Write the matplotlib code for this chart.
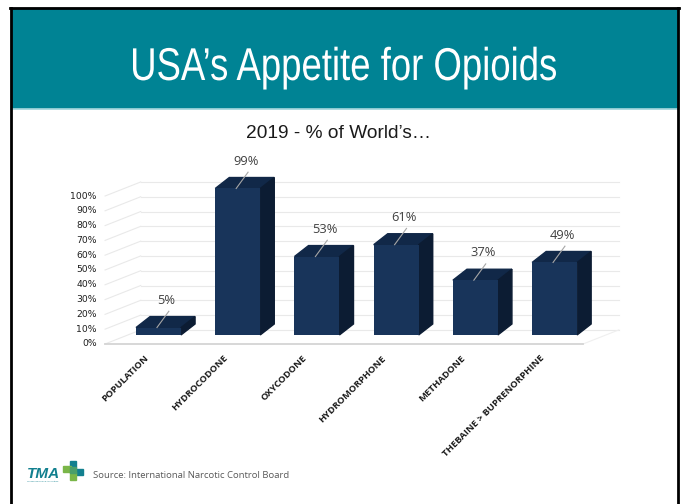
import matplotlib
matplotlib.use("Agg")
import matplotlib.pyplot as plt
from matplotlib.patches import Polygon, Rectangle, PathPatch
from matplotlib.lines import Line2D
from matplotlib.textpath import TextPath
from matplotlib.font_manager import FontProperties
from matplotlib.transforms import Affine2D

categories = ["POPULATION", "HYDROCODONE", "OXYCODONE", "HYDROMORPHONE",
              "METHADONE", "THEBAINE > BUPRENORPHINE"]
share = [5, 99, 53, 61, 37, 49]          # US share of world total, %
tick_vals = list(range(0, 101, 10))

# colours
TEAL = "#008394"
FRONT, TOP, SIDE = "#18345a", "#112848", "#0c1c33"
GRID = "#e9e9e9"

W, H = 685, 504
fig = plt.figure(figsize=(W / 100, H / 100), dpi=100)

def fx(px):
    return px / W

def fy(py):
    return 1 - py / H

# slide frame + header band
fig.patches.append(Rectangle((fx(11), fy(108)), fx(678) - fx(11), fy(8) - fy(108),
                             transform=fig.transFigure, color=TEAL, zorder=0))
fig.lines.append(Line2D([fx(11), fx(678)], [fy(109), fy(109)], transform=fig.transFigure,
                        color="#a8d8de", lw=1.2))
for xs, ys in [([fx(11), fx(11)], [fy(8), 0]), ([fx(678), fx(678)], [fy(8), 0]),
               ([fx(10), fx(679)], [fy(8), fy(8)])]:
    fig.lines.append(Line2D(xs, ys, transform=fig.transFigure, color="black", lw=2))

# header title: narrow face emulated by squeezing a text path horizontally
title = "USA\u2019s Appetite for Opioids"
tp = TextPath((0, 0), title, size=46, prop=FontProperties(family="Liberation Sans"))
ext = tp.get_extents()
sx = 423 / ext.width
tr = Affine2D().translate(-ext.x0, 0).scale(sx, 1).translate(133, H - 80)
fig.add_artist(PathPatch(tp, transform=tr, facecolor="white", edgecolor="none"))

fig.text(fx(339), fy(134), "2019 - % of World\u2019s\u2026", color="#1a1a1a",
         family="Liberation Sans", fontsize=13.8, ha="center", va="center")

# chart area: x in category units, y in percent
ax = fig.add_axes([fx(60), fy(420), fx(660) - fx(60), fy(150) - fy(420)])
ax.set_xlim(-1.244, 6.33)
ax.set_ylim(-51.4, 131.1)
ax.axis("off")

# perspective offsets
wall_dx, wall_dy = 0.45, 9.5
bar_dx, bar_dy = 0.177, 7.4
base = 6.1
bw = 0.568
left, right = -0.675, 5.36

for v in tick_vals:
    ax.plot([left, left + wall_dx], [v, v + wall_dy], color=GRID, lw=0.8, zorder=1)
    ax.plot([left + wall_dx, right + wall_dx], [v + wall_dy, v + wall_dy],
            color=GRID, lw=0.8, zorder=1)
    ax.text(-0.78, v, f"{v}%", ha="right", va="center", fontsize=6.7,
            color="#1f1f1f", family="DejaVu Sans")
ax.plot([left, right], [0, 0], color="#d4d4d4", lw=1.3, zorder=2)
ax.plot([right, right + wall_dx], [0, wall_dy], color="#efefef", lw=0.8, zorder=1)

xs = list(range(len(categories)))
ax.bar(xs, share, width=bw, bottom=base, color=FRONT, zorder=4)
for i, v in zip(xs, share):
    x0, x1 = i - bw / 2, i + bw / 2
    top = base + v
    ax.add_patch(Polygon([(x0, top), (x1, top), (x1 + bar_dx, top + bar_dy),
                          (x0 + bar_dx, top + bar_dy)], color=TOP, zorder=3))
    ax.add_patch(Polygon([(x1, base), (x1 + bar_dx, base + bar_dy),
                          (x1 + bar_dx, top + bar_dy), (x1, top)], color=SIDE, zorder=3))
    ax.plot([i - 0.02, i + 0.13], [top, top + 11], color="#a6a6a6", lw=0.8, zorder=5)
    ax.text(i + 0.1, top + 18.5, f"{v}%", ha="center", va="center", fontsize=9.3,
            color="#404040", family="Open Sans", zorder=6)

for i, name in zip(xs, categories):
    ax.text(i - 0.19, -6.5, name, rotation=45, rotation_mode="anchor",
            ha="right", va="top", fontsize=6.8, fontweight="bold",
            family="Open Sans", color="#1a1a1a")

# footer: logo + source
fig.text(fx(27), fy(478), "TMA", color="#12808f", fontsize=11, fontweight="bold",
         style="italic", family="Liberation Sans", ha="left", va="baseline")
fig.text(fx(27), fy(482), "Tennessee Medical Association", color="#12808f",
         fontsize=1.6, family="Liberation Sans", ha="left", va="baseline")
for (x, y, w, h, c) in [(70, 461, 6, 7, "#12808f"), (63, 466, 8, 6, "#7ab648"),
                        (75, 469, 8, 6, "#12808f"), (70, 472, 6, 8, "#7ab648"),
                        (70, 467, 6, 6, "#4a9f6a")]:
    fig.patches.append(Rectangle((fx(x), fy(y + h)), w / W, h / H,
                                 transform=fig.transFigure, color=c))
fig.text(fx(93), fy(476), "Source: International Narcotic Control Board",
         color="#595959", fontsize=6.8, family="Open Sans", ha="left", va="center")

fig.savefig("out.png", dpi=100)
